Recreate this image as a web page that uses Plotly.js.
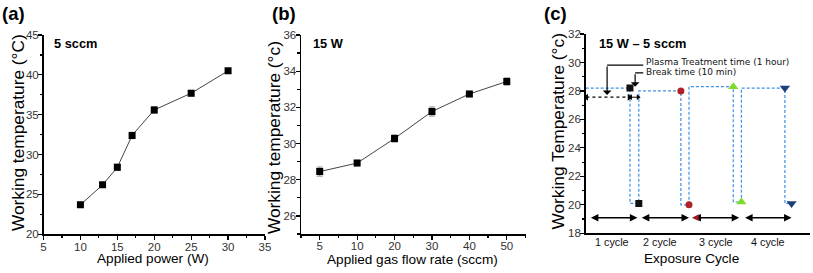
<!DOCTYPE html>
<html>
<head>
<meta charset="utf-8">
<script src="https://cdn.plot.ly/plotly-3.0.1.min.js"></script>
<style>html,body{margin:0;padding:0;background:#fff;}#chart{width:813px;height:273px;}</style>
</head>
<body>
<div id="chart"></div>
<script>
// ---------- data ----------
// (a) working temperature vs applied power (5 sccm)
const powerW = [10, 13, 15, 17, 20, 25, 30];
const tempA = [23.7, 26.2, 28.4, 32.4, 35.6, 37.7, 40.5];
const errA = [0.25, 0.25, 0.4, 0.4, 0.4, 0.35, 0.25];

// (b) working temperature vs applied gas flow rate (15 W)
const flowLabels = ['5', '10', '20', '30', '40', '50'];
const tempB = [28.45, 28.92, 30.28, 31.77, 32.74, 33.43];
const errB = [0.25, 0.15, 0.2, 0.25, 0.15, 0.2];

// (c) exposure cycles (15 W - 5 sccm), time in minutes
const cycleTime = [0, 60, 60, 72, 72, 129, 129, 140, 140, 200, 200, 211, 211, 270, 270, 279];
const cycleTemp = [28.2, 28.2, 20.1, 20.1, 28.0, 28.0, 20.0, 20.0, 28.3, 28.3, 20.2, 20.2, 28.2, 28.2, 20.1, 20.1];
const topTime = [60, 129, 200, 270];
const topTemp = [28.2, 28.0, 28.3, 28.2];
const bottomTime = [72, 140, 211, 279];
const bottomTemp = [20.1, 20.0, 20.2, 20.1];
const cycleLabels = ['1 cycle', '2 cycle', '3 cycle', '4 cycle'];
const cycleLabelTime = [35, 101, 177, 247];
const cycleArrowStart = [5, 74, 144, 214];
const cycleArrowEnd = [70, 140, 208, 279];
const cycleArrowTemp = 19.1;
const treatArrow = [1, 59];      // dotted double arrow (1 hour)
const breakArrow = [61, 71];     // break arrow (10 min)
const spanArrowTemp = 27.56;

// ---------- styles ----------
const FONT = 'Liberation Sans, Arial, sans-serif';
const markerColors = ['#111111', '#b0222a', '#7ddc2a', '#1f3f7a'];
const markerSymbols = ['square', 'circle', 'triangle-up', 'triangle-down'];

const traces = [];
traces.push({
  x: powerW, y: tempA, xaxis: 'x', yaxis: 'y', mode: 'lines+markers', type: 'scatter',
  line: {color: '#444', width: 1},
  marker: {symbol: 'square', size: 7, color: '#000'},
  error_y: {type: 'data', array: errA, visible: true, color: '#888', thickness: 1, width: 3}
});
traces.push({
  x: flowLabels.map((_, i) => i), y: tempB, xaxis: 'x2', yaxis: 'y2', mode: 'lines+markers', type: 'scatter',
  line: {color: '#444', width: 1},
  marker: {symbol: 'square', size: 7, color: '#000'},
  error_y: {type: 'data', array: errB, visible: true, color: '#888', thickness: 1, width: 3}
});
traces.push({
  x: cycleTime, y: cycleTemp, xaxis: 'x3', yaxis: 'y3', mode: 'lines', type: 'scatter',
  line: {color: '#3d8fe8', width: 1.2, dash: '3px,2px'}
});
for (let i = 0; i < 4; i++) {
  traces.push({
    x: [topTime[i], bottomTime[i]], y: [topTemp[i], bottomTemp[i]], xaxis: 'x3', yaxis: 'y3',
    mode: 'markers', type: 'scatter',
    marker: {symbol: markerSymbols[i], size: i >= 2 ? 9 : 7, color: markerColors[i]}
  });
}
// dotted treatment arrow and break arrow
traces.push({
  x: treatArrow, y: [spanArrowTemp, spanArrowTemp], xaxis: 'x3', yaxis: 'y3', mode: 'lines', type: 'scatter',
  line: {color: '#000', width: 1.2, dash: 'dot'}
});
traces.push({
  x: [treatArrow[0], treatArrow[1]], y: [spanArrowTemp, spanArrowTemp], xaxis: 'x3', yaxis: 'y3',
  mode: 'markers', type: 'scatter',
  marker: {symbol: ['triangle-left', 'triangle-right'], size: 6, color: '#000'}
});
traces.push({
  x: breakArrow, y: [spanArrowTemp, spanArrowTemp], xaxis: 'x3', yaxis: 'y3',
  mode: 'lines+markers', type: 'scatter',
  line: {color: '#000', width: 1},
  marker: {symbol: ['triangle-left', 'triangle-right'], size: 5, color: '#000'}
});

const W = 813, H = 273;
const px = v => v / W;
const py = v => 1 - v / H;

const axisCommon = {
  showline: true, linecolor: '#000', linewidth: 1.5, mirror: false,
  ticks: 'outside', ticklen: 4, tickwidth: 1.2, tickcolor: '#000',
  showgrid: false, zeroline: false, fixedrange: true,
  tickfont: {family: FONT, size: 11.5, color: '#333'}
};

const layout = {
  width: W, height: H,
  margin: {l: 0, r: 0, t: 0, b: 0},
  paper_bgcolor: '#fff', plot_bgcolor: '#fff',
  showlegend: false,
  font: {family: FONT, color: '#000'},
  xaxis: Object.assign({}, axisCommon, {
    domain: [px(43.5), px(265)], range: [5, 35], dtick: 5, tick0: 5, anchor: 'y',
    ticklabelstandoff: -3,
    minor: {ticks: 'outside', dtick: 2.5, tick0: 5, ticklen: 2.5, tickcolor: '#000'}
  }),
  yaxis: Object.assign({}, axisCommon, {
    domain: [py(234.3), py(35)], range: [20, 45], dtick: 5, tick0: 20, anchor: 'x',
    ticklabelstandoff: -3,
    minor: {ticks: 'outside', dtick: 2.5, tick0: 20, ticklen: 2.5, tickcolor: '#000'}
  }),
  xaxis2: Object.assign({}, axisCommon, {
    domain: [px(301), px(525.5)], range: [-0.5, 5.5], anchor: 'y2',
    ticklabelstandoff: -3,
    tickmode: 'array', tickvals: flowLabels.map((_, i) => i), ticktext: flowLabels,
    minor: {ticks: 'outside', dtick: 0.5, tick0: -0.5, ticklen: 2.5, tickcolor: '#000'}
  }),
  yaxis2: Object.assign({}, axisCommon, {
    domain: [py(234), py(35)], range: [25, 36], dtick: 2, tick0: 26, anchor: 'x2',
    ticklabelstandoff: -3,
    minor: {ticks: 'outside', dtick: 1, tick0: 25, ticklen: 2.5, tickcolor: '#000'}
  }),
  xaxis3: Object.assign({}, axisCommon, {
    domain: [px(585.7), px(810)], range: [0, 304], anchor: 'y3',
    ticks: '', showticklabels: false
  }),
  yaxis3: Object.assign({}, axisCommon, {
    domain: [py(233.3), py(34)], range: [18, 32], dtick: 2, tick0: 18, anchor: 'x3',
    ticklabelstandoff: -3,
    minor: {ticks: 'outside', dtick: 1, tick0: 18, ticklen: 2.5, tickcolor: '#000'}
  }),
  shapes: [
    // callout for treatment time
    {type: 'line', xref: 'x3', yref: 'y3', x0: 29, x1: 78, y0: 29.82, y1: 29.82, line: {color: '#000', width: 1.3}},
    // callout for break time
    {type: 'line', xref: 'x3', yref: 'y3', x0: 67, x1: 78, y0: 29.27, y1: 29.27, line: {color: '#000', width: 1.3}}
  ],
  annotations: []
};

const ann = layout.annotations;
// panel letters
[['(a)', 0], ['(b)', 270], ['(c)', 542]].forEach(([t, x]) => {
  ann.push({text: '<b>' + t + '</b>', xref: 'paper', yref: 'paper', x: px(x), y: py(13), xanchor: 'left', yanchor: 'middle',
    showarrow: false, font: {family: FONT, size: 18.5, color: '#000'}});
});
// inner labels
[['5 sccm', 51.5], ['15 W', 311], ['15 W \u2013 5 sccm', 596.5]].forEach(([t, x]) => {
  ann.push({text: '<b>' + t + '</b>', xref: 'paper', yref: 'paper', x: px(x), y: py(44), xanchor: 'left', yanchor: 'middle',
    showarrow: false, font: {family: FONT, size: 12.8, color: '#000'}});
});
// y titles
[['Working temperature (\u00b0C)', 17.5, 132.5], ['Working temperature (\u00b0c)', 273.5, 137.5], ['Working Temperature (\u00b0c)', 557, 131.5]].forEach(([t, x, y]) => {
  ann.push({text: t, xref: 'paper', yref: 'paper', x: px(x), y: py(y), xanchor: 'center', yanchor: 'middle',
    textangle: -90, showarrow: false, font: {family: FONT, size: 17.3, color: '#000'}});
});
// x titles
[['Applied power (W)', 152.5, 258.5], ['Applied gas flow rate (sccm)', 412, 259.5], ['Exposure Cycle', 691.5, 258.5]].forEach(([t, x, y]) => {
  ann.push({text: t, xref: 'paper', yref: 'paper', x: px(x), y: py(y), xanchor: 'center', yanchor: 'middle',
    showarrow: false, font: {family: FONT, size: 13.6, color: '#000'}});
});
// cycle labels
cycleLabels.forEach((t, i) => {
  ann.push({text: t, xref: 'x3', yref: 'paper', x: cycleLabelTime[i], y: py(241.5), xanchor: 'center', yanchor: 'middle',
    showarrow: false, font: {family: FONT, size: 10.8, color: '#111'}});
});
// cycle double arrows
cycleArrowStart.forEach((s, i) => {
  ann.push({x: cycleArrowEnd[i], y: cycleArrowTemp, ax: s, ay: cycleArrowTemp, xref: 'x3', yref: 'y3', axref: 'x3', ayref: 'y3',
    text: '', showarrow: true, arrowhead: 2, arrowside: 'end+start', arrowsize: 1, arrowwidth: 1.5, arrowcolor: '#000'});
});
// red left arrowhead on cycle 3
ann.push({x: cycleArrowStart[2], y: cycleArrowTemp, ax: cycleArrowStart[2] + 6, ay: cycleArrowTemp, xref: 'x3', yref: 'y3', axref: 'x3', ayref: 'y3',
  text: '', showarrow: true, arrowhead: 2, arrowsize: 0.9, arrowwidth: 1.5, arrowcolor: '#a01c22'});
// callout arrows
ann.push({x: 29, y: 27.72, ax: 29, ay: 29.82, xref: 'x3', yref: 'y3', axref: 'x3', ayref: 'y3',
  text: '', showarrow: true, arrowhead: 1, arrowsize: 1.2, arrowwidth: 1.2, arrowcolor: '#000'});
ann.push({x: 67, y: 28.3, ax: 67, ay: 29.27, xref: 'x3', yref: 'y3', axref: 'x3', ayref: 'y3',
  text: '', showarrow: true, arrowhead: 1, arrowsize: 1.2, arrowwidth: 1.2, arrowcolor: '#000'});
// callout texts
ann.push({text: 'Plasma Treatment time (1 hour)', xref: 'x3', yref: 'y3', x: 79, y: 30.0, xanchor: 'left', yanchor: 'middle',
  showarrow: false, font: {family: 'DejaVu Sans, sans-serif', size: 9, color: '#111'}});
ann.push({text: 'Break time (10 min)', xref: 'x3', yref: 'y3', x: 79, y: 29.33, xanchor: 'left', yanchor: 'middle',
  showarrow: false, font: {family: 'DejaVu Sans, sans-serif', size: 9, color: '#111'}});

Plotly.newPlot('chart', traces, layout, {displayModeBar: false, staticPlot: true});
</script>
</body>
</html>
